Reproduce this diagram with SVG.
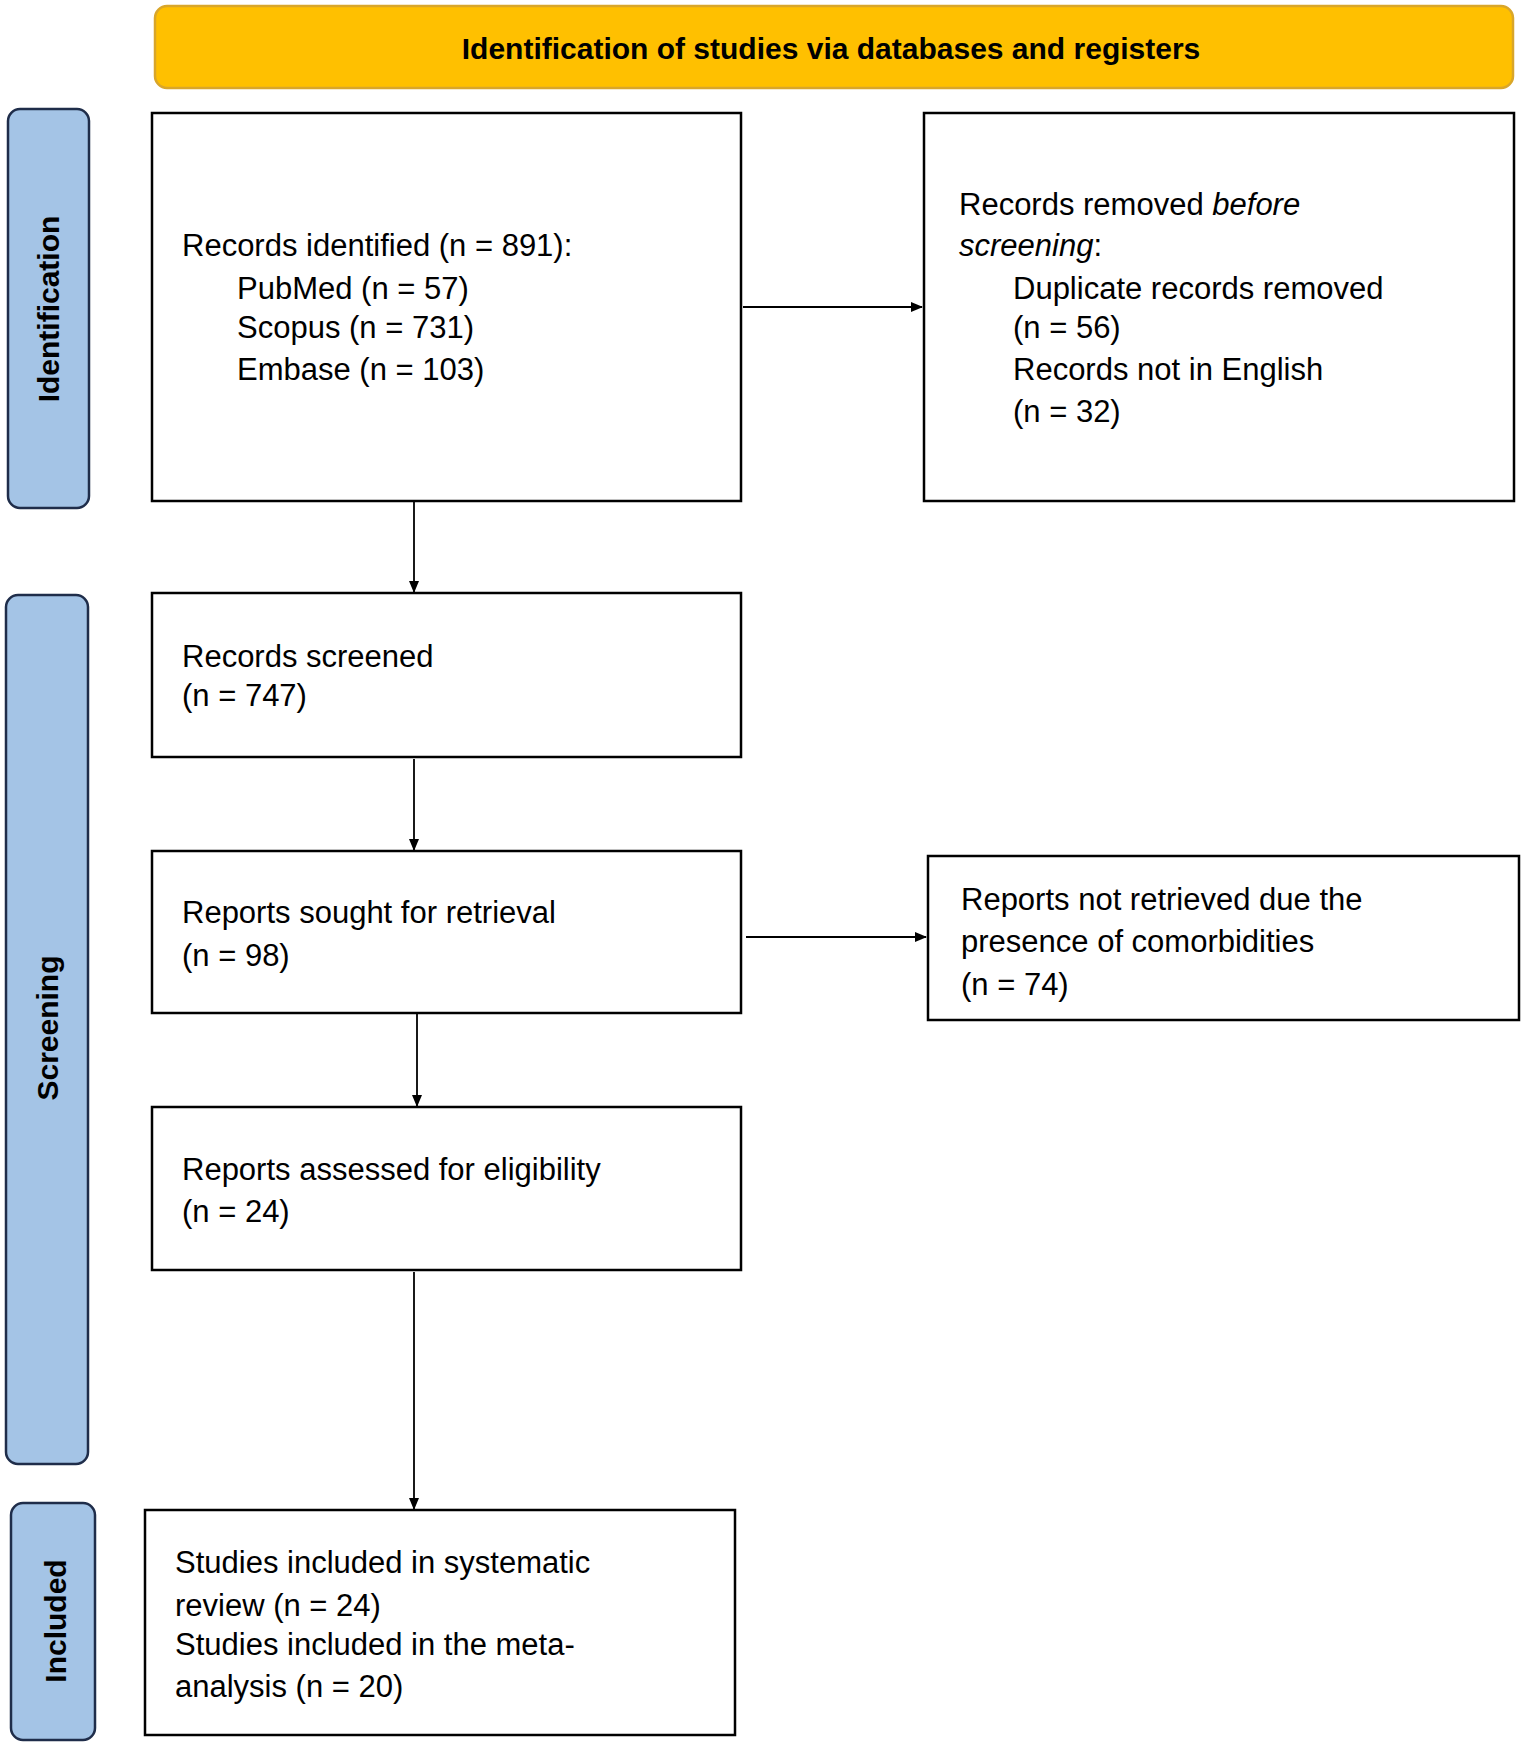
<svg xmlns="http://www.w3.org/2000/svg" width="1524" height="1748" viewBox="0 0 1524 1748">
<style>
.box{fill:#fff;stroke:#000;stroke-width:2.5}
.side{fill:#a4c4e6;stroke:#1f2d4a;stroke-width:2.5}
.t{font-family:"Liberation Sans",Arial,sans-serif;font-size:31px;fill:#000}
.b{font-family:"Liberation Sans",Arial,sans-serif;font-size:30px;font-weight:bold;fill:#000}
.c{stroke:#000;stroke-width:1.8;fill:none;marker-end:url(#ah)}
</style>
<defs><marker id="ah" markerWidth="12" markerHeight="10" refX="11" refY="5" orient="auto" markerUnits="userSpaceOnUse" viewBox="0 0 12 10"><path d="M0,0L12,5L0,10z" fill="#000"/></marker>
</defs>
<g id="header"><rect x="155" y="6" width="1358" height="82" rx="12" fill="#ffc000" stroke="#d9a62a" stroke-width="2.5"/><text class="b" x="831" y="59" text-anchor="middle">Identification of studies via databases and registers</text></g>
<g id="lbl-identification"><rect class="side" x="8" y="109" width="81" height="399" rx="12"/><text class="b" transform="translate(59,309) rotate(-90)" text-anchor="middle">Identification</text></g>
<g id="lbl-screening"><rect class="side" x="6" y="595" width="82" height="869" rx="12"/><text class="b" transform="translate(58,1028) rotate(-90)" text-anchor="middle">Screening</text></g>
<g id="lbl-included"><rect class="side" x="11" y="1503" width="84" height="237" rx="12"/><text class="b" transform="translate(66,1621) rotate(-90)" text-anchor="middle">Included</text></g>
<g id="n1"><rect class="box" x="152" y="113" width="589" height="388"/><text class="t" x="182" y="256">Records identified (n = 891):</text><text class="t" x="237" y="299">PubMed (n = 57)</text><text class="t" x="237" y="338">Scopus (n = 731)</text><text class="t" x="237" y="380">Embase (n = 103)</text></g>
<g id="n2"><rect class="box" x="924" y="113" width="590" height="388"/><text class="t" x="959" y="215">Records removed <tspan font-style="italic">before</tspan></text><text class="t" x="959" y="256"><tspan font-style="italic">screening</tspan>:</text><text class="t" x="1013" y="299">Duplicate records removed</text><text class="t" x="1013" y="338">(n = 56)</text><text class="t" x="1013" y="380">Records not in English</text><text class="t" x="1013" y="422">(n = 32)</text></g>
<g id="n3"><rect class="box" x="152" y="593" width="589" height="164"/><text class="t" x="182" y="667">Records screened</text><text class="t" x="182" y="706">(n = 747)</text></g>
<g id="n4"><rect class="box" x="152" y="851" width="589" height="162"/><text class="t" x="182" y="923">Reports sought for retrieval</text><text class="t" x="182" y="966">(n = 98)</text></g>
<g id="n5"><rect class="box" x="928" y="856" width="591" height="164"/><text class="t" x="961" y="910">Reports not retrieved due the</text><text class="t" x="961" y="952">presence of comorbidities</text><text class="t" x="961" y="995">(n = 74)</text></g>
<g id="n6"><rect class="box" x="152" y="1107" width="589" height="163"/><text class="t" x="182" y="1180">Reports assessed for eligibility</text><text class="t" x="182" y="1222">(n = 24)</text></g>
<g id="n7"><rect class="box" x="145" y="1510" width="590" height="225"/><text class="t" x="175" y="1573">Studies included in systematic</text><text class="t" x="175" y="1616">review (n = 24)</text><text class="t" x="175" y="1655">Studies included in the meta-</text><text class="t" x="175" y="1697">analysis (n = 20)</text></g>
<g id="connectors">
<line class="c" x1="414" y1="502" x2="414" y2="592"/>
<line class="c" x1="414" y1="759" x2="414" y2="850"/>
<line class="c" x1="417" y1="1014" x2="417" y2="1106"/>
<line class="c" x1="414" y1="1272" x2="414" y2="1509"/>
<line class="c" x1="743" y1="307" x2="922" y2="307"/>
<line class="c" x1="746" y1="937" x2="926" y2="937"/>
</g>
</svg>
